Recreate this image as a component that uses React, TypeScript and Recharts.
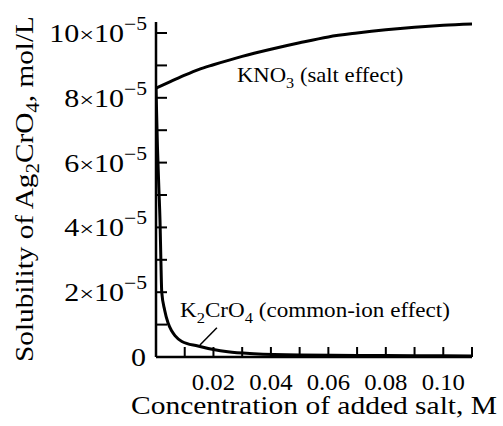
import { LineChart, Line, XAxis, YAxis, ReferenceLine, Customized } from "recharts";

// concentrations in M, solubilities in units of 1e-5 mol/L
const KNO3_CONC = [0, 0.005, 0.01, 0.015, 0.02, 0.03, 0.04, 0.05, 0.06, 0.07, 0.08, 0.09, 0.1, 0.11];
const KNO3_SOL = [8.3, 8.5, 8.7, 8.88, 9.02, 9.28, 9.5, 9.7, 9.88, 10.0, 10.1, 10.18, 10.24, 10.28];

const K2CRO4_CONC = [
  0, 0.0005, 0.001, 0.0014, 0.0017, 0.002, 0.003, 0.0042, 0.0055, 0.0066, 0.009, 0.0146, 0.02, 0.025, 0.034,
  0.05, 0.07, 0.09, 0.11,
];
const K2CRO4_SOL = [
  8.3, 6.5, 5.2, 4.2, 3.0, 2.0, 1.45, 1.05, 0.8, 0.66, 0.48, 0.34, 0.23, 0.16, 0.1, 0.06, 0.05, 0.04, 0.03,
];

const X_TICKS = [0.01, 0.02, 0.03, 0.04, 0.05, 0.06, 0.07, 0.08, 0.09, 0.1, 0.11];
const X_LABELS = ["0.02", "0.04", "0.06", "0.08", "0.10"];
const Y_TICKS = [0, 1, 2, 3, 4, 5, 6, 7, 8, 9, 10];
const Y_LABELS = [0, 2, 4, 6, 8, 10];

const kno3Data = KNO3_CONC.map((x, i) => ({ x, y: KNO3_SOL[i] }));
const k2cro4Data = K2CRO4_CONC.map((x, i) => ({ x, y: K2CRO4_SOL[i] }));

const FONT = '"Liberation Serif", "DejaVu Serif", serif';

// Text stretched along its reading direction (the source font is wider than Times)
function SText({ x, y, sx = 1, rotate = 0, anchor = "start", size = 25, children }: any) {
  return (
    <g transform={`translate(${x},${y}) rotate(${rotate}) scale(${sx},1)`}>
      <text x={0} y={0} textAnchor={anchor} fontSize={size} fontFamily={FONT} fill="#000">
        {children}
      </text>
    </g>
  );
}

function YTick(props: any) {
  const { x, y, payload } = props;
  const v = payload.value;
  return (
    <g>
      <line x1={x} y1={y} x2={x + 11} y2={y} stroke="#000" strokeWidth={2} />
      {Y_LABELS.includes(v) &&
        (v === 0 ? (
          <SText x={x - 10} y={y + 9} anchor="end" sx={1.2}>
            0
          </SText>
        ) : (
          <SText x={x - 9} y={y + 9} anchor="end" sx={1.2}>
            {v}
            <tspan fontSize={22}>×</tspan>
            10
            <tspan dy={-12} fontSize={18}>
              −5
            </tspan>
          </SText>
        ))}
    </g>
  );
}

function XTick(props: any) {
  const { x, y, payload } = props;
  const label = payload.value.toFixed(2);
  return (
    <g>
      <line x1={x} y1={y} x2={x} y2={y - 10} stroke="#000" strokeWidth={2} />
      {X_LABELS.includes(label) && (
        <SText x={x} y={y + 33} anchor="middle" size={24} sx={1.03}>
          {label}
        </SText>
      )}
    </g>
  );
}

function Annotations() {
  return (
    <g>
      <SText x={237} y={82} size={21} sx={1.08}>
        KNO<tspan dy={6} fontSize={15}>3</tspan>
        <tspan dy={-6}> (salt effect)</tspan>
      </SText>
      <SText x={180} y={317} size={21} sx={1.1}>
        K<tspan dy={6} fontSize={15}>2</tspan>
        <tspan dy={-6}>CrO</tspan>
        <tspan dy={6} fontSize={15}>4</tspan>
        <tspan dy={-6}> (common-ion effect)</tspan>
      </SText>
      <SText x={314} y={414} anchor="middle" sx={1.18}>
        Concentration of added salt, M
      </SText>
      <SText x={33} y={189} rotate={-90} anchor="middle" sx={1.17}>
        Solubility of Ag<tspan dy={6} fontSize={18}>2</tspan>
        <tspan dy={-6}>CrO</tspan>
        <tspan dy={6} fontSize={18}>4</tspan>
        <tspan dy={-6}>, mol/L</tspan>
      </SText>
    </g>
  );
}

export default function App() {
  return (
    <div style={{ position: "absolute", left: 0, top: 0, background: "#fff" }}>
      <LineChart width={503} height={426} margin={{ top: 22, right: 31, bottom: 0, left: 0 }}>
        <XAxis
          type="number"
          dataKey="x"
          domain={[0, 0.11]}
          allowDataOverflow
          ticks={X_TICKS}
          interval={0}
          height={69}
          tickLine={false}
          tickSize={0}
          tickMargin={0}
          axisLine={{ stroke: "#000", strokeWidth: 2.5 }}
          tick={(p: any) => <XTick {...p} />}
        />
        <YAxis
          type="number"
          dataKey="y"
          domain={[0, 10.34]}
          allowDataOverflow
          ticks={Y_TICKS}
          interval={0}
          width={156}
          tickLine={false}
          tickSize={0}
          tickMargin={0}
          axisLine={{ stroke: "#000", strokeWidth: 2.5 }}
          tick={(p: any) => <YTick {...p} />}
        />
        <Line
          data={kno3Data}
          dataKey="y"
          type="monotone"
          stroke="#000"
          strokeWidth={3}
          dot={false}
          isAnimationActive={false}
        />
        <Line
          data={k2cro4Data}
          dataKey="y"
          type="monotone"
          stroke="#000"
          strokeWidth={3}
          dot={false}
          isAnimationActive={false}
        />
        <ReferenceLine
          segment={[
            { x: 0.0153, y: 0.37 },
            { x: 0.0212, y: 0.9 },
          ]}
          stroke="#000"
          strokeWidth={1.5}
        />
        <Customized component={<Annotations />} />
      </LineChart>
    </div>
  );
}
